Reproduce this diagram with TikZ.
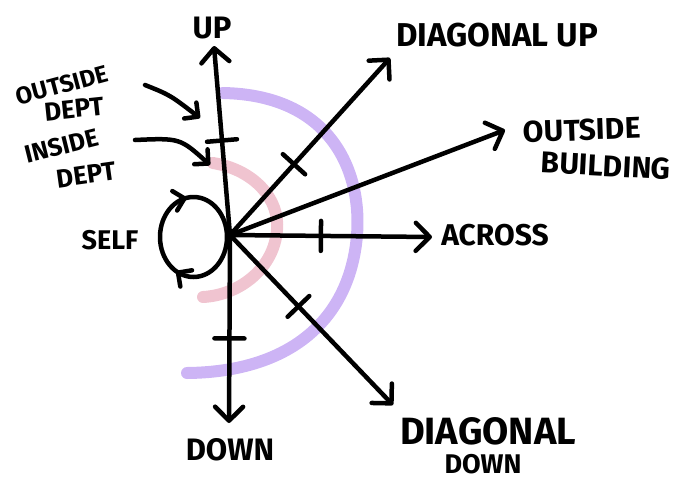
\documentclass[tikz,border=0pt]{standalone}
\usepackage{fontspec}
\setmainfont{Fira Sans}
\usetikzlibrary{arrows.meta,decorations.markings}
\newcommand\fsz[1]{\fontsize{#1}{#1}\selectfont\bfseries}
\definecolor{lavender}{RGB}{205,180,245}
\definecolor{rosepink}{RGB}{240,196,208}
\tikzset{
  ink/.style={line width=4.5pt, line cap=round, line join=round, black},
  arr/.style={ink, -{Straight Barb[length=14pt,width=28pt,round]}},
  tickat/.style={postaction={decorate,decoration={markings,
     mark=at position #1 with {\draw[ink,-] (0,-15pt)--(0,15pt);}}}},
  lbl/.style={inner sep=0pt, align=center},
  zone/.style={line width=12pt, line cap=round},
}
\begin{document}
\begin{tikzpicture}[x=1pt,y=-1pt]
\useasboundingbox (0,0) rectangle (677,482);

% coloured zones
\draw[zone, lavender] (223,93) .. controls (330,95) and (362,170) .. (357,235)
   .. controls (350,320) and (290,372) .. (187,373);
\draw[zone, rosepink] (213,163) .. controls (255,170) and (280,200) .. (277,230)
   .. controls (274,268) and (240,295) .. (203,297);

% centre and arrow ends
\coordinate (c) at (230,235);
\coordinate (tup) at (214,46);
\coordinate (tdu) at (390,58);
\coordinate (tob) at (505,130);
\coordinate (tac) at (432,237);
\coordinate (tdd) at (393,405);
\coordinate (tdn) at (229,423);

\draw[arr, tickat=0.5] (c) -- (tup);
\draw[arr, tickat=0.4] (c) -- (tdu);
\draw[arr] (c) -- (tob);
\draw[arr, tickat=0.45] (c) -- (tac);
\draw[arr, tickat=0.42] (c) -- (tdd);
\draw[arr, tickat=0.55] (c) -- (tdn);

% self loop
\draw[ink, postaction={decorate,decoration={markings,
   mark=at position 0.33 with {\arrow{Straight Barb[length=10pt,width=20pt,round]}},
   mark=at position 0.72 with {\arrow{Straight Barb[length=10pt,width=20pt,round]}}}}]
   (193.5,237) ellipse [x radius=33.5, y radius=40];

% labels
\node[lbl, font=\fsz{31}] (up) at (212,28) {UP};
\node[lbl, font=\fsz{33}] (dup) at (497,35) {DIAGONAL UP};
\node[lbl, font=\fsz{30}, rotate=2] (ob1) at (582,130) {OUTSIDE};
\node[lbl, font=\fsz{30}, rotate=-3] (ob2) at (606,166) {BUILDING};
\node[lbl, font=\fsz{30}] (ac) at (495,235) {ACROSS};
\node[lbl, font=\fsz{38}] (dd1) at (488,431) {DIAGONAL};
\node[lbl, font=\fsz{27}] (dd2) at (483,464) {DOWN};
\node[lbl, font=\fsz{31}] (dn) at (230,450) {DOWN};
\node[lbl, font=\fsz{27}] (self) at (110,240) {SELF};
\node[lbl, font=\fsz{24}, rotate=15] (od1) at (62,85) {OUTSIDE};
\node[lbl, font=\fsz{26}, rotate=6] (od2) at (74,109) {DEPT};
\node[lbl, font=\fsz{25}, rotate=14] (id1) at (62,146) {INSIDE};
\node[lbl, font=\fsz{26}, rotate=8] (id2) at (86,175) {DEPT};

% pointer arrows
\coordinate (ods) at (145,85);
\coordinate (odt) at (200,118);
\coordinate (ids) at (135,140);
\coordinate (idt) at (210,165);
\draw[ink, -{Straight Barb[length=10pt,width=20pt,round]}] (ods) .. controls (170,95) .. (odt);
\draw[ink, -{Straight Barb[length=10pt,width=20pt,round]}] (ids) .. controls (180,138) .. (idt);
\end{tikzpicture}
\end{document}
